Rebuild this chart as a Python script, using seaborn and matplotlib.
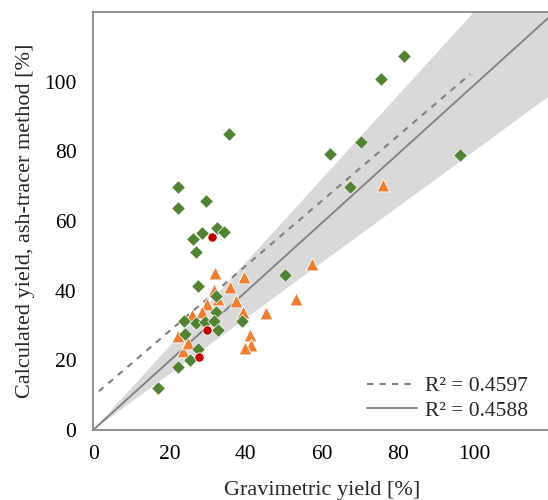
import matplotlib

matplotlib.use("Agg")

import matplotlib.pyplot as plt
import numpy as np
import pandas as pd
import seaborn as sns


# green diamonds
GREEN_X = [81.6, 75.6, 70.3, 62.2, 96.3, 67.5, 35.7, 22.3, 22.3, 29.7,
           26.1, 28.7, 32.5, 34.4, 27.0, 27.5, 32.3, 32.3, 39.0, 23.9,
           27.0, 29.4, 31.8, 24.2, 32.9, 27.6, 25.5, 22.4, 17.1, 50.3]
GREEN_Y = [107.4, 100.9, 82.6, 79.1, 78.9, 69.7, 84.9, 69.7, 63.7, 65.7,
           54.9, 56.5, 58.1, 56.9, 51.2, 41.4, 38.4, 34.0, 31.4, 31.2,
           30.6, 30.9, 31.4, 27.6, 28.8, 23.3, 20.0, 18.2, 12.1, 44.5]

# orange triangles
ORANGE_X = [32.1, 39.5, 57.4, 35.8, 53.3, 45.3, 37.5, 39.3, 41.2, 41.5,
            39.8, 76.2, 31.6, 29.8, 28.5, 25.9, 22.2, 23.7, 25.0, 32.9]
ORANGE_Y = [45.0, 43.9, 47.6, 41.1, 37.6, 33.5, 37.1, 34.0, 27.4, 24.5,
            23.5, 70.3, 40.1, 36.2, 33.8, 32.9, 27.1, 22.6, 24.9, 37.6]

# red circles
RED_X = [31.3, 29.8, 27.9]
RED_Y = [55.4, 28.6, 20.9]

# trend lines
DASH_SLOPE, DASH_INTERCEPT, DASH_RANGE = 0.934, 9.7, (1.5, 99.0)
SOLID_SLOPE = 0.99
BAND_LOW, BAND_HIGH = 0.8, 1.2
R2_LABELS = ["R² = 0.4597", "R² = 0.4588"]

TICKS = [0, 20, 40, 60, 80, 100]


def main():
    sns.set_theme(style="white")
    plt.rcParams["font.family"] = ["Liberation Serif", "DejaVu Serif"]

    fig = plt.figure(figsize=(5.48, 5.0), dpi=100)
    ax = fig.add_axes([0.170, 0.14, 0.834, 0.836])

    xs = np.array([0, 120])
    ax.fill_between(xs, BAND_LOW * xs, BAND_HIGH * xs, color="#d9d9d9", linewidth=0, zorder=1)

    xd = np.array(DASH_RANGE)
    ax.plot(xd, DASH_SLOPE * xd + DASH_INTERCEPT, color="#7f7f7f", linewidth=1.5,
            dashes=(3, 3), label=R2_LABELS[0], zorder=2)
    ax.plot(xs, SOLID_SLOPE * xs, color="#7f7f7f", linewidth=1.3, label=R2_LABELS[1], zorder=2)

    orange = pd.DataFrame({"x": ORANGE_X, "y": ORANGE_Y})
    green = pd.DataFrame({"x": GREEN_X, "y": GREEN_Y})
    red = pd.DataFrame({"x": RED_X, "y": RED_Y})

    sns.scatterplot(data=orange, x="x", y="y", marker="^", s=85, color="#ed7d31",
                    edgecolor="white", linewidth=0.6, ax=ax, zorder=3, legend=False)
    sns.scatterplot(data=green, x="x", y="y", marker="D", s=48, color="#548235",
                    edgecolor="white", linewidth=0.5, ax=ax, zorder=4, legend=False)
    sns.scatterplot(data=red, x="x", y="y", marker="o", s=45, color="#c00000",
                    edgecolor="white", linewidth=0.6, ax=ax, zorder=5, legend=False)

    ax.set_xlim(0, 120)
    ax.set_ylim(0, 120)
    ax.set_xticks(TICKS)
    ax.set_yticks(TICKS)
    ax.tick_params(axis="both", length=0, labelsize=15.5, colors="black")
    ax.tick_params(axis="x", pad=11)
    ax.tick_params(axis="y", pad=12)
    for side in ["left", "bottom", "top", "right"]:
        ax.spines[side].set_color("#888888")
        ax.spines[side].set_linewidth(1.3)
    ax.grid(False)

    ax.set_xlabel("Gravimetric yield [%]", fontsize=16)
    ax.set_ylabel("Calculated yield, ash-tracer method [%]", fontsize=16)
    ax.xaxis.set_label_coords(0.5, -0.122)
    ax.yaxis.set_label_coords(-0.127, 0.5)

    ax.legend(loc="lower right", bbox_to_anchor=(0.952, 0.022), frameon=False,
              fontsize=15.5, handlelength=2.3, handletextpad=0.4, labelspacing=0.2,
              borderpad=0, borderaxespad=0)

    fig.savefig("out.png", dpi=100)
    plt.close(fig)


if __name__ == "__main__":
    main()
